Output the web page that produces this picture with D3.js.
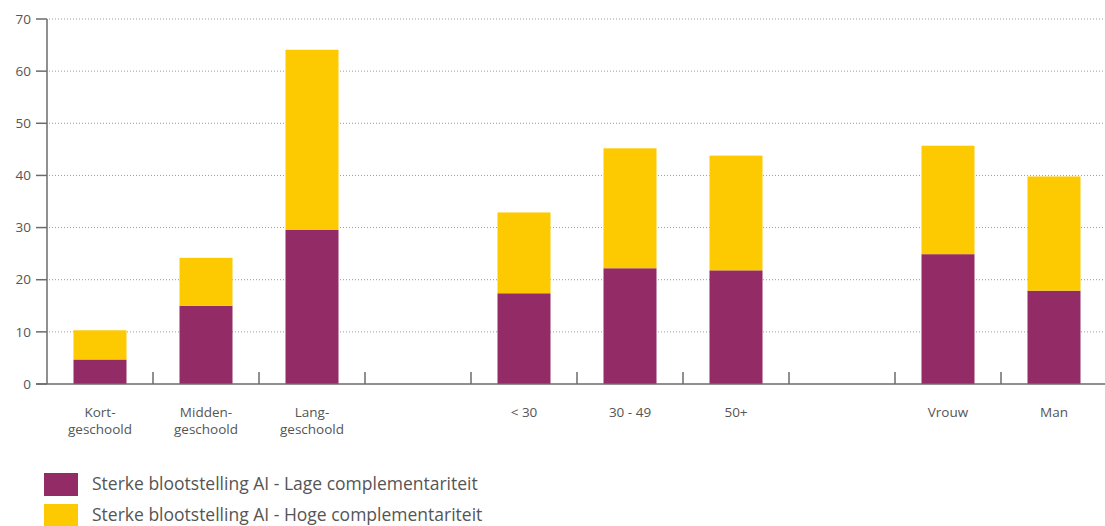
<!doctype html>
<html lang="nl">
<head>
  <meta charset="utf-8">
  <title>Blootstelling AI</title>
  <script src="https://d3js.org/d3.v7.min.js"></script>
  <style>
    body { margin: 0; background: #fff; }
    svg { display: block; font-family: "Open Sans", "Noto Sans", sans-serif; }
    .tick-label { fill: #555; font-size: 13.5px; }
    .grid line { stroke: #9a9a9a; stroke-width: 1; stroke-dasharray: 1 2; }
    .legend text { fill: #555; font-size: 17.5px; }
  </style>
</head>
<body>
  <div id="chart"></div>
  <script>
// categories (empty strings are the gaps between the groups)
const categories = ['Kort-|geschoold', 'Midden-|geschoold', 'Lang-|geschoold', '',
  '< 30', '30 - 49', '50+', '', 'Vrouw', 'Man'];
// series values, in %
const lage = [4.7, 15.0, 29.6, null, 17.4, 22.2, 21.8, null, 24.9, 17.9];
const hoge = [5.6, 9.2, 34.5, null, 15.5, 23.0, 22.0, null, 20.8, 21.9];
const seriesNames = ['Sterke blootstelling AI - Lage complementariteit',
  'Sterke blootstelling AI - Hoge complementariteit'];
const yTicks = [0, 10, 20, 30, 40, 50, 60, 70];

const width = 1105, height = 526;
const colors = ['#922b66', '#fdc900'];

const svg = d3.select('#chart').append('svg')
  .attr('width', width)
  .attr('height', height);

// one band per slot, the last band runs a bit past the right edge like the original
const x = d3.scaleBand()
  .domain(d3.range(categories.length))
  .range([47, 1107])
  .paddingInner(0)
  .paddingOuter(0);

const y = d3.scaleLinear()
  .domain([0, 70])
  .range([384, 19]);

// dotted gridlines
svg.append('g').attr('class', 'grid')
  .selectAll('line')
  .data(yTicks.filter(d => d > 0))
  .join('line')
  .attr('x1', 49).attr('x2', width)
  .attr('y1', d => y(d)).attr('y2', d => y(d));

// stacked bars
const rows = categories.map((c, i) => ({ i, lage: lage[i], hoge: hoge[i] }))
  .filter(d => d.lage != null);
const stacked = d3.stack().keys(['lage', 'hoge'])(rows);
const barW = x.bandwidth() * 0.5;

svg.append('g')
  .selectAll('g')
  .data(stacked)
  .join('g')
  .attr('fill', (d, k) => colors[k])
  .selectAll('rect')
  .data(d => d)
  .join('rect')
  .attr('x', d => x(d.data.i) + (x.bandwidth() - barW) / 2)
  .attr('width', barW)
  .attr('y', d => y(d[1]))
  .attr('height', d => y(d[0]) - y(d[1]));

// y axis
const yAxis = svg.append('g');
yAxis.append('line')
  .attr('x1', 47).attr('x2', 47)
  .attr('y1', y(70)).attr('y2', y(0))
  .attr('stroke', '#6b6b6b').attr('stroke-width', 1.5);
yAxis.selectAll('.yt')
  .data(yTicks)
  .join('line')
  .attr('x1', 36).attr('x2', 47)
  .attr('y1', d => y(d)).attr('y2', d => y(d))
  .attr('stroke', '#6b6b6b').attr('stroke-width', 1.5);
yAxis.selectAll('text')
  .data(yTicks)
  .join('text')
  .attr('class', 'tick-label')
  .attr('x', 31)
  .attr('y', d => y(d))
  .attr('dy', '0.35em')
  .attr('text-anchor', 'end')
  .text(d => d);

// x axis with upward ticks between the slots
const xAxis = svg.append('g');
xAxis.append('line')
  .attr('x1', 36).attr('x2', width)
  .attr('y1', y(0)).attr('y2', y(0))
  .attr('stroke', '#6b6b6b').attr('stroke-width', 1.5);
xAxis.selectAll('.xt')
  .data(d3.range(1, categories.length))
  .join('line')
  .attr('x1', d => x(d)).attr('x2', d => x(d))
  .attr('y1', y(0) - 12).attr('y2', y(0))
  .attr('stroke', '#6b6b6b').attr('stroke-width', 1.5);

const labels = xAxis.selectAll('text')
  .data(categories.map((c, i) => ({ c, i })).filter(d => d.c))
  .join('text')
  .attr('class', 'tick-label')
  .attr('text-anchor', 'middle')
  .attr('x', d => x(d.i) + x.bandwidth() / 2)
  .attr('y', 417);
labels.selectAll('tspan')
  .data(d => d.c.split('|').map(t => ({ t, cx: x(d.i) + x.bandwidth() / 2 })))
  .join('tspan')
  .attr('x', d => d.cx)
  .attr('dy', (d, k) => k === 0 ? 0 : 16.5)
  .text(d => d.t);

// legend
const legend = svg.append('g').attr('class', 'legend')
  .selectAll('g')
  .data(seriesNames)
  .join('g')
  .attr('transform', (d, k) => `translate(44, ${473 + k * 31})`);
legend.append('rect')
  .attr('width', 34).attr('height', 23)
  .attr('fill', (d, k) => colors[k]);
legend.append('text')
  .attr('x', 48).attr('y', 17)
  .text(d => d);
  </script>
</body>
</html>
